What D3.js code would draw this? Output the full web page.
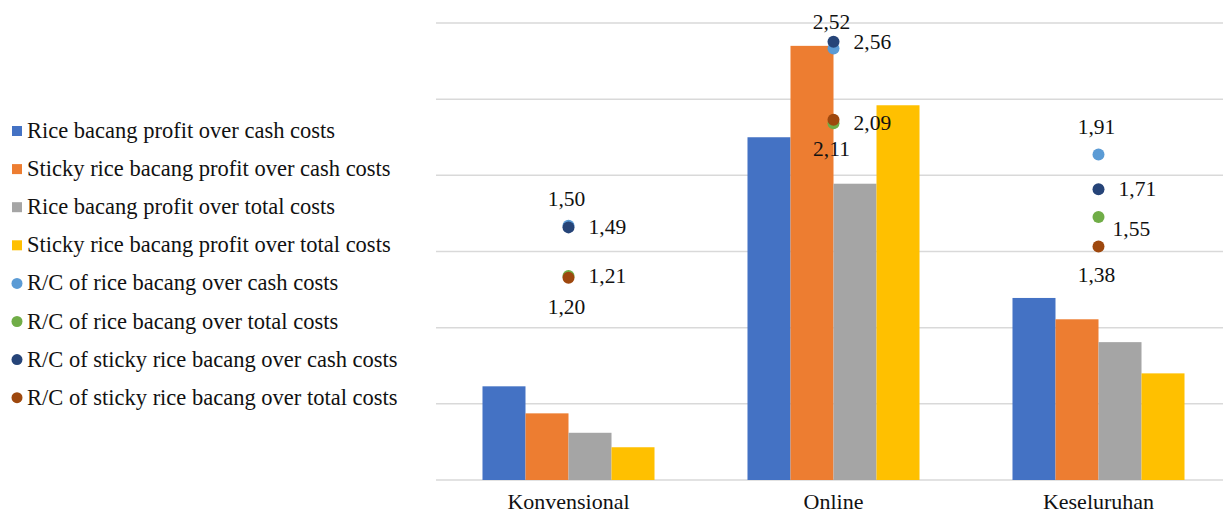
<!DOCTYPE html>
<html>
<head>
<meta charset="utf-8">
<script src="https://cdn.jsdelivr.net/npm/d3@7"></script>
<style>
  html, body { margin: 0; padding: 0; background: #fff; }
  svg { display: block; }
</style>
</head>
<body>
<svg id="chart" width="1223" height="515"></svg>
<script>
// ---- data ----
const categories = ["Konvensional", "Online", "Keseluruhan"];

const barSeries = [
  "Rice bacang profit over cash costs",
  "Sticky rice bacang profit over cash costs",
  "Rice bacang profit over total costs",
  "Sticky rice bacang profit over total costs"
];
// profit bars (primary axis, units of one gridline; axis labels hidden in the original)
const riceProfitCash        = [1.23, 4.50, 2.39];
const stickyProfitCash      = [0.875, 5.70, 2.11];
const riceProfitTotal       = [0.62, 3.89, 1.81];
const stickyProfitTotal     = [0.43, 4.92, 1.40];

const pointSeries = [
  "R/C of rice bacang over cash costs",
  "R/C of rice bacang over total costs",
  "R/C of sticky rice bacang over cash costs",
  "R/C of sticky rice bacang over total costs"
];
// R/C ratios (secondary axis)
const rcRiceCash    = [1.50, 2.52, 1.91];
const rcRiceTotal   = [1.21, 2.09, 1.55];
const rcStickyCash  = [1.49, 2.56, 1.71];
const rcStickyTotal = [1.20, 2.11, 1.38];

const primaryTicks = [0, 1, 2, 3, 4, 5, 6];

// ---- styles ----
const FONT = "'Liberation Serif', 'Times New Roman', serif";
const barColors   = ["#4472C4", "#ED7D31", "#A5A5A5", "#FFC000"];
const pointColors = ["#5B9BD5", "#70AD47", "#264478", "#9E480E"];
// label placement per point series, per category
const labelPlace = [
  ["above", "above", "above"],
  ["right", "right", "rightLow"],
  ["right", "right", "right"],
  ["below", "below", "below"]
];

const barData = [riceProfitCash, stickyProfitCash, riceProfitTotal, stickyProfitTotal];
const pointData = [rcRiceCash, rcRiceTotal, rcStickyCash, rcStickyTotal];

const svg = d3.select("#chart").style("font-family", FONT);
const plotLeft = 436, plotRight = 1223, yTop = 23, yBase = 480;

const x = d3.scaleBand().domain(categories).range([plotLeft, 1231]).padding(0);
const xs = d3.scaleBand().domain(d3.range(4)).range([0, x.bandwidth()]).paddingInner(0).paddingOuter(1.081);
const y = d3.scaleLinear().domain([0, 6]).range([yBase, yTop]);
const y2 = d3.scaleLinear().domain([0, 2.8]).range([486, 0]);

// gridlines
svg.append("g").selectAll("line").data(primaryTicks).join("line")
  .attr("x1", plotLeft).attr("x2", plotRight)
  .attr("y1", d => y(d)).attr("y2", d => y(d))
  .attr("stroke", "#d9d9d9").attr("stroke-width", 1.5);

// bars
const fmt = v => d3.format(".2f")(v).replace(".", ",");
barData.forEach((vals, s) => {
  svg.append("g").selectAll("rect").data(vals).join("rect")
    .attr("x", (d, i) => x(categories[i]) + xs(s))
    .attr("width", xs.bandwidth())
    .attr("y", d => y(d))
    .attr("height", d => y(0) - y(d))
    .attr("fill", barColors[s]);
});

// points
pointData.forEach((vals, s) => {
  svg.append("g").selectAll("circle").data(vals).join("circle")
    .attr("cx", (d, i) => x(categories[i]) + x.bandwidth() / 2)
    .attr("cy", d => y2(d))
    .attr("r", 6)
    .attr("fill", pointColors[s]);
});

// point labels
pointData.forEach((vals, s) => {
  svg.append("g").selectAll("text").data(vals).join("text")
    .attr("font-size", 21.5)
    .attr("fill", "#111")
    .each(function (d, i) {
      const cx = x(categories[i]) + x.bandwidth() / 2;
      const cy = y2(d);
      const p = labelPlace[s][i];
      const t = d3.select(this).text(fmt(d));
      if (p === "above") t.attr("x", cx - 2).attr("y", cy - 20).attr("text-anchor", "middle");
      else if (p === "below") t.attr("x", cx - 2).attr("y", cy + 36).attr("text-anchor", "middle");
      else if (p === "rightLow") t.attr("x", cx + 14).attr("y", cy + 19).attr("text-anchor", "start");
      else t.attr("x", cx + 20).attr("y", cy + 7).attr("text-anchor", "start");
    });
});

// category labels
svg.append("g").selectAll("text").data(categories).join("text")
  .attr("x", d => x(d) + x.bandwidth() / 2)
  .attr("y", 509)
  .attr("text-anchor", "middle")
  .attr("font-size", 22)
  .attr("fill", "#111")
  .text(d => d);

// legend
const legendItems = barSeries.map((n, i) => ({ name: n, type: "rect", color: barColors[i] }))
  .concat(pointSeries.map((n, i) => ({ name: n, type: "circle", color: pointColors[i] })));
const lg = svg.append("g").selectAll("g").data(legendItems).join("g")
  .attr("transform", (d, i) => `translate(0, ${131 + i * 38.1})`);
lg.each(function (d) {
  const g = d3.select(this);
  if (d.type === "rect") g.append("rect").attr("x", 12).attr("y", -5).attr("width", 10).attr("height", 10).attr("fill", d.color);
  else g.append("circle").attr("cx", 17).attr("cy", 0).attr("r", 5.5).attr("fill", d.color);
  g.append("text").attr("x", 27).attr("y", 7).attr("font-size", 22.5).attr("fill", "#111").text(d.name);
});
</script>
</body>
</html>
